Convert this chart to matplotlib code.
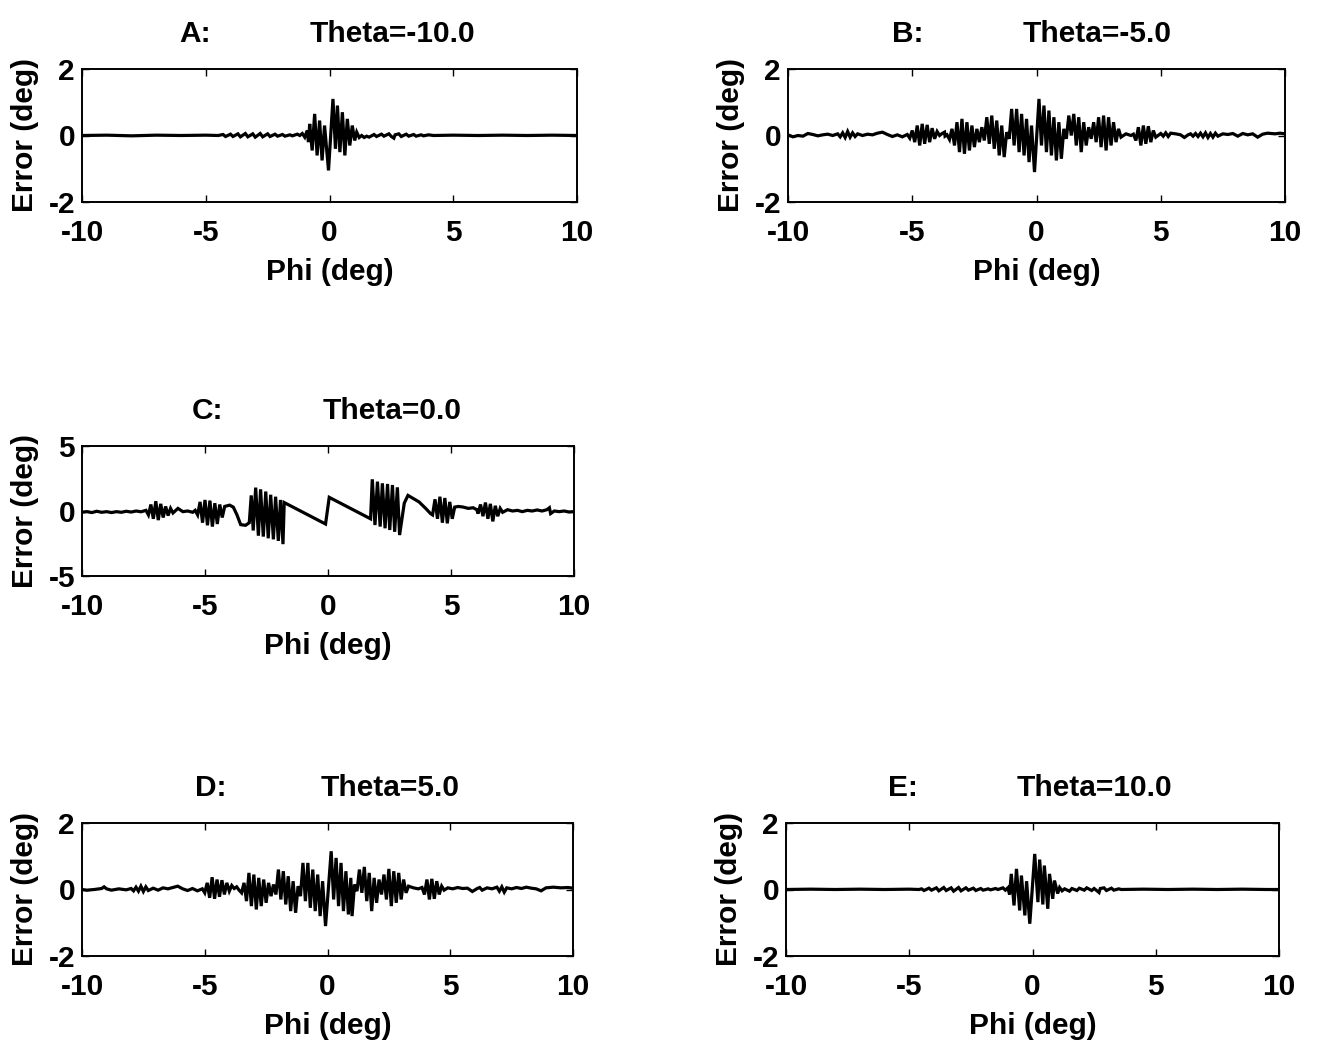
import matplotlib
matplotlib.use("Agg")
import matplotlib.pyplot as plt

plt.rcParams['font.family'] = ['Liberation Sans', 'DejaVu Sans']
plt.rcParams['font.weight'] = 'bold'
plt.rcParams['axes.unicode_minus'] = False

# ---------------- data ----------------
x_ticks = [-10, -5, 0, 5, 10]

A_phi = [-10, -9, -8, -7, -6, -5, -4.5,
         -4.3, -4.2, -4.0, -3.9, -3.7, -3.6, -3.4, -3.3, -3.1, -3.0, -2.8, -2.7,
         -2.5, -2.4, -2.2, -2.1, -1.9, -1.8, -1.6, -1.5, -1.3, -1.2, -1.1,
         -1.0, -0.9, -0.85, -0.8, -0.7, -0.6, -0.5, -0.4, -0.3, -0.2, -0.04,
         0.14, 0.24, 0.32, 0.42, 0.52, 0.62, 0.72, 0.82, 0.92, 1.02, 1.1, 1.2,
         1.3, 1.4, 1.5, 1.6, 1.8, 1.9, 2.1, 2.2, 2.4, 2.5, 2.6, 2.65, 2.8, 2.9,
         3.1, 3.2, 3.4, 3.5, 3.7, 3.8, 4.0, 4.2,
         5, 6, 7, 8, 9, 10]
A_err = [0.0, 0.01, -0.01, 0.01, 0.0, 0.01, 0.0,
         0.03, -0.03, 0.04, -0.03, 0.05, -0.04, 0.06, -0.04, 0.05, -0.05, 0.06, -0.04,
         0.05, -0.03, 0.04, -0.02, 0.03, -0.02, 0.02, -0.01, 0.04, 0.0, 0.06,
         -0.05, 0.15, -0.2, 0.35, -0.45, 0.65, -0.6, 0.45, -0.75, 0.3, -1.05,
         1.1, -0.4, 0.9, -0.5, 0.7, -0.6, 0.5, -0.3, 0.3, -0.15, 0.1, -0.06,
         0.0, -0.06, -0.02, -0.05, 0.03, -0.03, 0.04, -0.02, 0.05, -0.03, -0.08, 0.02, 0.05, -0.03,
         0.04, -0.02, 0.03, -0.02, 0.02, -0.01, 0.02, 0.0,
         0.01, 0.0, 0.01, 0.0, 0.01, 0.0]

B_phi = [-10, -9.8, -9.6, -9.4, -9.2, -9.0, -8.8, -8.6, -8.4, -8.2,
         -8.0, -7.9, -7.8, -7.7, -7.6, -7.5, -7.4, -7.3, -7.2, -7.0, -6.8, -6.6,
         -6.4, -6.2, -6.0, -5.8, -5.6, -5.4, -5.2,
         -5.1, -5.0, -4.9, -4.8, -4.7, -4.6, -4.5, -4.4, -4.3, -4.2, -4.1, -4.0,
         -3.9, -3.8, -3.7, -3.68,
         -3.6, -3.5, -3.4, -3.3, -3.2, -3.1, -3.0, -2.9, -2.8, -2.7, -2.6, -2.5,
         -2.4, -2.3, -2.2,
         -2.1, -2.0, -1.9, -1.8, -1.7, -1.6, -1.5, -1.4, -1.3, -1.2,
         -1.1, -1.0, -0.9, -0.8, -0.7, -0.6, -0.5, -0.4, -0.3, -0.2, -0.08,
         0.1, 0.2, 0.3, 0.4, 0.5, 0.6, 0.7, 0.8, 0.9, 1.0, 1.1,
         1.2, 1.3, 1.4, 1.5, 1.6, 1.7, 1.8, 1.9, 2.0, 2.1,
         2.2, 2.3, 2.4, 2.5, 2.6, 2.7, 2.8, 2.9, 3.0, 3.1, 3.2, 3.3, 3.4,
         3.6, 3.8, 3.9,
         4.0, 4.1, 4.2, 4.3, 4.4, 4.5, 4.6, 4.7, 4.8,
         5.0, 5.1, 5.2, 5.3, 5.4, 5.6, 5.8, 5.95, 6.1, 6.2, 6.3, 6.4, 6.5, 6.6,
         6.7, 6.8, 6.9, 7.0, 7.1, 7.2, 7.3, 7.5, 7.7, 7.9, 8.1, 8.3, 8.5, 8.7,
         8.9, 9.1, 9.3, 9.6, 9.8, 10]
B_err = [0.02, -0.04, 0.0, -0.02, 0.06, 0.03, -0.01, 0.02, 0.04, 0.0,
         0.05, -0.04, 0.08, -0.06, 0.12, -0.05, 0.08, -0.03, 0.05, 0.0, 0.04, 0.02,
         0.07, 0.1, 0.03, -0.03, 0.02, -0.04, 0.03,
         -0.08, 0.15, -0.2, 0.3, -0.3, 0.35, -0.25, 0.32, -0.2, 0.22, -0.1, 0.12,
         0.0, 0.06, 0.1, -0.02,
         0.02, -0.12, 0.2, -0.3, 0.4, -0.5, 0.5, -0.55, 0.4, -0.45, 0.3, -0.35,
         0.2, -0.2, 0.25,
         -0.15, 0.55, -0.25, 0.6, -0.4, 0.45, -0.6, 0.3, -0.65, 0.1,
         -0.1, 0.8, -0.3, 0.8, -0.5, 0.65, -0.6, 0.5, -0.8, 0.3, -1.1,
         1.1, -0.3, 0.9, -0.5, 0.75, -0.6, 0.55, -0.75, 0.4, -0.7, 0.2,
         -0.1, 0.6, 0.0, 0.65, -0.3, 0.55, -0.5, 0.4, -0.3, 0.25,
         -0.1, 0.4, -0.2, 0.55, -0.35, 0.6, -0.45, 0.55, -0.3, 0.4, -0.2, 0.2, -0.05,
         0.05, 0.0, 0.04,
         -0.15, 0.25, -0.3, 0.3, -0.25, 0.28, -0.2, 0.15, -0.05,
         0.06, -0.02, 0.08, -0.03, 0.07, 0.05, 0.02, -0.06, 0.02, 0.05, -0.02, 0.06, -0.03, 0.07,
         -0.04, 0.08, -0.06, 0.06, -0.05, 0.07, -0.02, 0.05, 0.03, 0.06, -0.02, 0.06, 0.02, 0.05,
         -0.05, 0.04, 0.07, 0.05, 0.07, 0.05]

C_phi = [-10, -9.8, -9.6, -9.4, -9.2, -9.0, -8.8, -8.6, -8.4, -8.2, -8.0, -7.8, -7.6,
         -7.4, -7.3, -7.2, -7.1, -7.0, -6.9, -6.8, -6.7, -6.6, -6.5, -6.4, -6.3,
         -6.1, -5.9, -5.7, -5.5, -5.4,
         -5.3, -5.2, -5.1, -5.0, -4.9, -4.8, -4.7, -4.6, -4.5, -4.4, -4.3,
         -4.2, -4.0, -3.85, -3.7, -3.55, -3.35,
         -3.2, -3.12, -3.04, -2.94, -2.83, -2.74, -2.63, -2.53, -2.43, -2.33,
         -2.22, -2.13, -2.02, -1.93, -1.83, -1.78,
         -0.1, 0.05, 1.73,
         1.80, 1.91, 2.01, 2.12, 2.21, 2.32, 2.42, 2.51, 2.62, 2.71, 2.82, 2.91,
         3.1, 3.25, 3.43, 3.7, 3.97, 4.17,
         4.25, 4.35, 4.45, 4.55, 4.65, 4.75, 4.85, 4.95, 5.05, 5.15,
         5.3, 5.5, 5.7, 5.9, 6.05,
         6.1, 6.2, 6.3, 6.4, 6.5, 6.6, 6.7, 6.8, 6.9, 7.0, 7.1,
         7.3, 7.5, 7.7, 7.9, 8.1, 8.3, 8.5, 8.7, 8.9, 9.0, 9.05, 9.2, 9.4, 9.6, 9.8, 10]
C_err = [-0.1, -0.05, -0.12, -0.02, -0.1, -0.05, -0.12, -0.05, -0.1, -0.02, -0.08, 0.0, -0.06,
         0.05, -0.3, 0.5, -0.6, 0.75, -0.7, 0.55, -0.5, 0.35, -0.35, 0.2, -0.15,
         0.2, -0.05, 0.0, -0.1, 0.05,
         -0.3, 0.7, -0.9, 0.85, -1.1, 0.8, -1.2, 0.6, -1.0, 0.5, -0.5,
         0.35, 0.45, 0.3, -0.3, -1.05, -1.1,
         -0.9, 1.2, -1.5, 1.8, -1.9, 1.67, -1.97, 1.5, -2.1, 1.25,
         -2.18, 1.1, -2.3, 0.85, -2.55, 0.65,
         -1.0, 1.05, -0.6,
         2.44, -1.08, 2.26, -1.2, 2.13, -1.33, 2.08, -1.46, 2.0, -1.6, 1.82, -1.85,
         0.6, 1.2, 1.0, 0.7, 0.2, -0.2,
         -0.3, 0.9, -0.6, 1.1, -0.9, 1.0, -0.95, 0.7, -0.6, 0.3,
         0.35, 0.3, 0.2, 0.25, 0.1,
         -0.2, 0.5, -0.4, 0.65, -0.6, 0.55, -0.8, 0.4, -0.4, 0.2, -0.1,
         0.1, 0.0, 0.05, -0.05, 0.05, 0.0, 0.08, 0.0, 0.1, 0.25, -0.2, 0.0, -0.05, 0.0, -0.08, -0.05]

D_phi = [-10, -9.8, -9.5, -9.2, -9.1, -9.0, -8.8, -8.5, -8.2,
         -8.0, -7.9, -7.8, -7.7, -7.6, -7.5, -7.4, -7.3, -7.1, -6.9, -6.7, -6.5,
         -6.3, -6.1, -5.9, -5.7, -5.5, -5.3, -5.1,
         -5.0, -4.9, -4.8, -4.7, -4.6, -4.5, -4.4, -4.3, -4.2, -4.1, -4.0, -3.9,
         -3.8, -3.7, -3.6,
         -3.5, -3.4, -3.3, -3.2, -3.1, -3.0, -2.9, -2.8, -2.7, -2.6, -2.5, -2.4,
         -2.3, -2.2,
         -2.1, -2.0, -1.9, -1.8, -1.7, -1.6, -1.5, -1.4, -1.3, -1.2,
         -1.1, -1.0, -0.9, -0.8, -0.7, -0.6, -0.5, -0.4, -0.3, -0.2, -0.08,
         0.15, 0.25, 0.35, 0.45, 0.55, 0.65, 0.75, 0.85, 0.95, 1.0, 1.1,
         1.2, 1.3, 1.4, 1.5, 1.6, 1.7, 1.8, 1.9, 2.0,
         2.1, 2.2, 2.3, 2.4, 2.5, 2.6, 2.7, 2.8, 2.9, 3.0, 3.1, 3.2, 3.3,
         3.5, 3.7, 3.85,
         3.95, 4.05, 4.15, 4.25, 4.35, 4.45, 4.55, 4.65, 4.75,
         4.9, 5.1, 5.3, 5.5, 5.7, 5.9, 6.1, 6.2, 6.3, 6.5, 6.7, 6.9, 7.0, 7.1,
         7.2, 7.3, 7.5, 7.7, 7.9, 8.1, 8.3, 8.5, 8.7, 8.9, 9.2, 9.5, 9.8, 10]
D_err = [0.0, -0.02, 0.0, 0.03, 0.08, 0.02, -0.02, 0.02, -0.01,
         0.03, -0.04, 0.07, -0.05, 0.1, -0.06, 0.08, -0.03, 0.04, -0.02, 0.05, 0.02,
         0.06, 0.1, 0.02, -0.03, 0.03, -0.04, 0.02,
         -0.1, 0.2, -0.25, 0.37, -0.28, 0.3, -0.22, 0.28, -0.15, 0.2, -0.05, 0.12,
         0.03, 0.08, -0.02,
         -0.1, 0.2, -0.35, 0.5, -0.5, 0.45, -0.6, 0.35, -0.5, 0.3, -0.4, 0.2,
         -0.2, 0.15,
         -0.15, 0.6, -0.3, 0.55, -0.45, 0.4, -0.65, 0.25, -0.7, 0.1,
         -0.2, 0.8, -0.35, 0.8, -0.55, 0.6, -0.65, 0.45, -0.8, 0.25, -1.1,
         1.15, -0.3, 0.95, -0.5, 0.8, -0.65, 0.55, -0.75, 0.35, -0.8, 0.15,
         -0.05, 0.6, -0.1, 0.68, -0.35, 0.5, -0.65, 0.35, -0.4,
         0.3, -0.15, 0.45, -0.3, 0.62, -0.5, 0.55, -0.4, 0.5, -0.3, 0.3, -0.1, 0.1,
         0.05, 0.02, 0.06,
         -0.15, 0.3, -0.3, 0.32, -0.28, 0.25, -0.15, 0.1, -0.02,
         0.05, 0.02, 0.06, 0.03, 0.04, -0.06, 0.03, 0.06, -0.02, 0.05, 0.02, 0.07, -0.05, 0.08,
         -0.08, 0.05, 0.02, 0.06, 0.03, 0.07, 0.04, 0.02, -0.04, 0.05, 0.07, 0.05, 0.06, 0.04]

E_phi = [-10, -9, -8, -7, -6, -5, -4.6,
         -4.5, -4.4, -4.2, -4.1, -3.9, -3.8, -3.6, -3.5, -3.3, -3.2, -3.0, -2.9,
         -2.7, -2.6, -2.4, -2.3, -2.1, -2.0, -1.8, -1.7, -1.5, -1.4, -1.2, -1.1,
         -1.0, -0.93, -0.86, -0.75, -0.65, -0.52, -0.45, -0.31, -0.24, -0.11,
         0.09, 0.22, 0.29, 0.42, 0.48, 0.62, 0.69, 0.82, 0.89, 1.02, 1.1,
         1.2, 1.3, 1.5, 1.6, 1.8, 1.9, 2.1, 2.2, 2.4, 2.5, 2.7, 2.75, 2.9, 3.0,
         3.2, 3.3, 3.5, 3.6,
         4.5, 5.5, 6.5, 7.5, 8.5, 9.5, 10]
E_err = [0.0, 0.01, 0.0, 0.01, 0.0, 0.01, 0.0,
         0.02, -0.03, 0.04, -0.02, 0.05, -0.04, 0.06, -0.03, 0.05, -0.05, 0.06, -0.04,
         0.05, -0.02, 0.04, -0.03, 0.03, -0.02, 0.02, -0.01, 0.03, 0.0, 0.05, -0.02,
         0.05, -0.15, 0.47, -0.48, 0.62, -0.63, 0.42, -0.78, 0.25, -1.03,
         1.07, -0.38, 0.9, -0.45, 0.72, -0.58, 0.47, -0.28, 0.27, -0.12, 0.06,
         -0.04, 0.02, -0.05, 0.03, -0.03, 0.04, -0.02, 0.05, -0.03, 0.03, -0.09, 0.03, 0.05, -0.03,
         0.04, -0.02, 0.02, 0.0,
         0.01, 0.0, 0.01, 0.0, 0.01, 0.0, 0.0]

panels = [
    # letter, theta label, phi, err, y limit, box in pixels (l, t, r, b), title x positions
    ("A:", "Theta=-10.0", A_phi, A_err, 2, [82, 69, 577, 202], 0.228, 0.628),
    ("B:", "Theta=-5.0", B_phi, B_err, 2, [788, 69, 1285, 202], 0.241, 0.622),
    ("C:", "Theta=0.0", C_phi, C_err, 5, [82, 446, 574, 576], 0.256, 0.630),
    ("D:", "Theta=5.0", D_phi, D_err, 2, [82, 823, 573, 956], 0.263, 0.627),
    ("E:", "Theta=10.0", E_phi, E_err, 2, [786, 823, 1279, 956], 0.237, 0.625),
]

W, H = 1320, 1044
fig = plt.figure(figsize=(W / 100, H / 100), dpi=100)
FS = 21.5

for letter, theta, phi, err, ylim, (l, t, r, b), xl, xt in panels:
    ax = fig.add_axes([l / W, (H - b) / H, (r - l) / W, (b - t) / H])
    ax.plot(phi, err, color='black', lw=2.3, solid_joinstyle='miter')
    ax.set_xlim(-10, 10)
    ax.set_ylim(-ylim, ylim)
    ax.set_xticks(x_ticks)
    ax.set_yticks([-ylim, 0, ylim])
    ax.tick_params(direction='in', length=5, width=1.0, top=True, right=True,
                   labelsize=FS, colors='black')
    ax.tick_params(axis='x', pad=12)
    ax.tick_params(axis='y', pad=5)
    for s in ax.spines.values():
        s.set_linewidth(1.4)
    hpx = b - t
    wpx = r - l
    ax.set_xlabel("Phi (deg)", fontsize=FS, fontweight='bold', va='center')
    ax.xaxis.set_label_coords(0.5, -(70 / hpx))
    ax.set_ylabel("Error (deg)", fontsize=FS, fontweight='bold', va='center')
    ax.yaxis.set_label_coords(-(57 / wpx), 0.5)
    ty = 1 + 27 / hpx
    ax.text(xl, ty, letter, transform=ax.transAxes, ha='center', va='baseline',
            fontsize=FS, fontweight='bold')
    ax.text(xt, ty, theta, transform=ax.transAxes, ha='center', va='baseline',
            fontsize=FS, fontweight='bold')

fig.savefig("out.png", dpi=100, facecolor='white')
